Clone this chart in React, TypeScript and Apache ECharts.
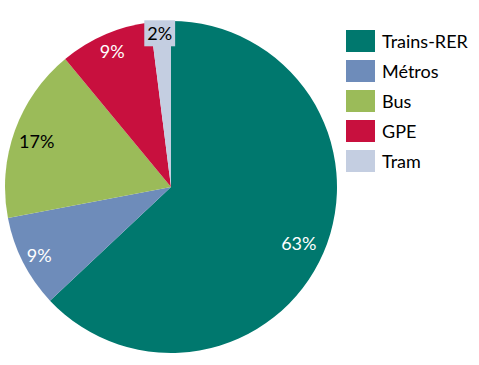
import React, { useEffect, useRef } from "react";
import * as echarts from "echarts";

const categories = ["Trains-RER", "Métros", "Bus", "GPE", "Tram"];
const values = [63, 9, 17, 9, 2];
const colors = ["#00786E", "#6E8CBA", "#9BBB59", "#C8103E", "#C4CEE1"];
const labelColors = ["#FFFFFF", "#FFFFFF", "#000000", "#FFFFFF", "#000000"];

export default function App() {
  const ref = useRef<HTMLDivElement>(null);
  useEffect(() => {
    if (!ref.current) return;
    const chart = echarts.init(ref.current, null, { renderer: "svg" });
    const data = categories.map((name, i) => ({
      name,
      value: values[i],
      itemStyle: { color: colors[i] },
    }));
    const offsets = [[-8, -3], [0, 1], [5, 4], [0, 0], [-2, -6]];
    const labelData = categories.map((name, i) => ({
      name,
      value: values[i],
      label: {
        color: labelColors[i],
        offset: offsets[i],
        ...(i === 4
          ? { backgroundColor: colors[4], padding: [4, 3, 4, 3] }
          : {}),
      },
    }));
    chart.setOption({
      animation: false,
      legend: {
        orient: "vertical",
        left: 346,
        top: 30,
        padding: 0,
        icon: "rect",
        itemWidth: 29,
        itemHeight: 22,
        itemGap: 8,
        textStyle: { fontFamily: "Lato", fontSize: 18, color: "#000", padding: [0, 0, 0, 2] },
        data: categories,
      },
      series: [
        {
          type: "pie",
          center: [171, 187],
          radius: [0, 166],
          startAngle: 90,
          clockwise: true,
          label: { show: false },
          labelLine: { show: false },
          silent: true,
          data,
        },
        {
          type: "pie",
          center: [171, 187],
          radius: [124, 166],
          startAngle: 90,
          clockwise: true,
          silent: true,
          legendHoverLink: false,
          itemStyle: { color: "rgba(0,0,0,0)" },
          label: {
            show: true,
            position: "inside",
            formatter: "{c}%",
            fontFamily: "Lato",
            fontSize: 18,
          },
          labelLine: { show: false },
          data: labelData,
        },
      ],
    });
    return () => chart.dispose();
  }, []);
  return (
    <div
      ref={ref}
      style={{ position: "absolute", left: 0, top: 0, width: 479, height: 365, background: "#fff" }}
    />
  );
}
